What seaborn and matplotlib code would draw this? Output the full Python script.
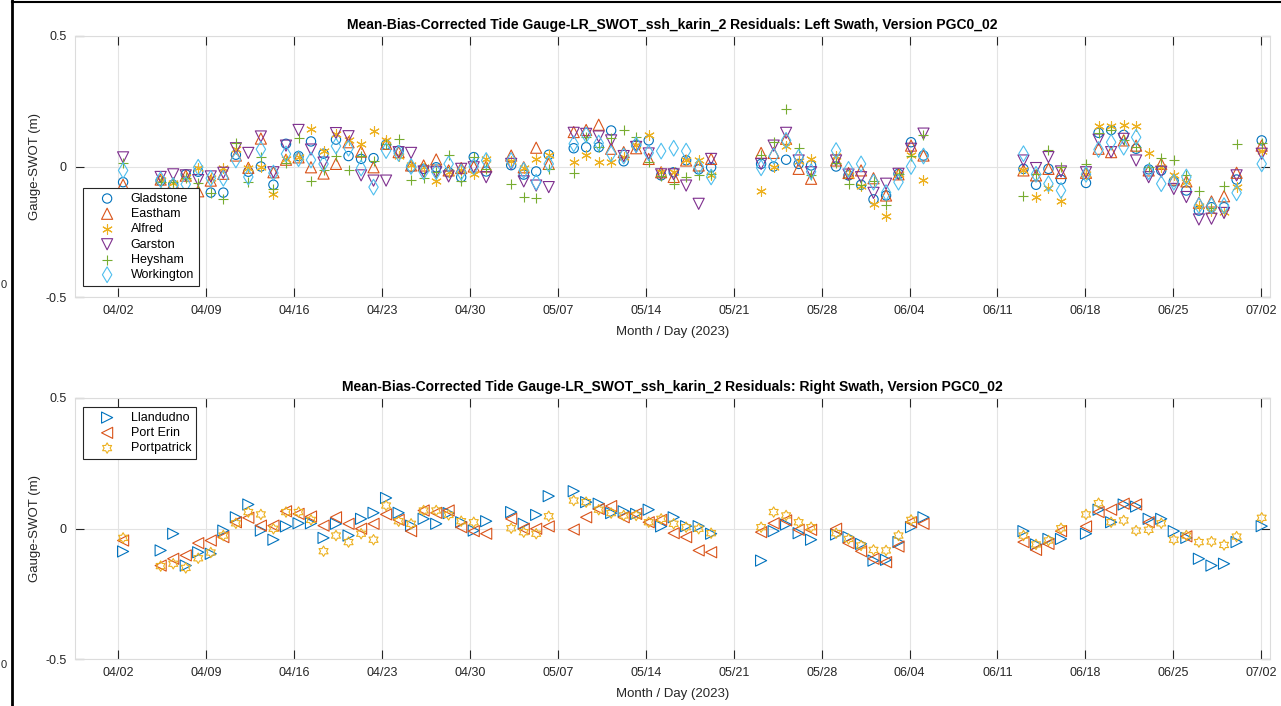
import numpy as np
import pandas as pd
import matplotlib
matplotlib.use("Agg")
import matplotlib.pyplot as plt
from matplotlib.path import Path
from matplotlib.lines import Line2D
import seaborn as sns

plt.rcParams['font.family'] = ['Liberation Sans', 'DejaVu Sans']

nan = np.nan

# ---------------- data ----------------
start_date = "2023-04-02"
# pass times, days after 04/02 00:00
pass_day = [0.38, 3.37, 4.37, 5.37, 6.36, 7.36, 8.36, 9.36, 10.35, 11.35, 12.35, 13.35, 14.35,
            15.34, 16.34, 17.33, 18.33, 19.33, 20.32, 21.32, 22.32, 23.31, 24.31, 25.31, 26.30,
            27.30, 28.30, 29.29, 31.28, 32.28, 33.27, 34.27, 36.26, 37.25, 38.25, 39.24, 40.24,
            41.23, 42.23, 43.22, 44.22, 45.21, 46.21, 47.20, 51.18, 52.18, 53.17, 54.17, 55.16,
            57.15, 58.14, 59.14, 60.13, 61.13, 62.12, 63.12, 64.11, 72.07, 73.07, 74.06, 75.06,
            77.05, 78.05, 79.05, 80.05, 81.04, 82.04, 83.04, 84.04, 85.04, 86.04, 87.04, 88.04,
            89.04, 91.04]

left_names = ["Gladstone", "Eastham", "Alfred", "Garston", "Heysham", "Workington"]
gladstone = [-0.06, -0.055, -0.07, -0.03, -0.02, -0.10, -0.10, 0.045, -0.02, 0.0, -0.07, 0.087, 0.04,
             0.096, 0.049, 0.103, 0.04, 0.029, 0.032, 0.083, 0.061, -0.003, -0.009, -0.003, -0.022,
             -0.041, 0.036, -0.019, 0.005, -0.031, -0.019, 0.045, 0.07, 0.074, 0.074, 0.138, 0.02,
             0.083, 0.10, -0.034, -0.022, 0.024, -0.011, -0.003, 0.01, 0.0, 0.026, 0.01, 0.004,
             0.0, -0.034, -0.07, -0.126, -0.111, -0.028, 0.093, 0.042, -0.009, -0.07, -0.009, -0.05,
             -0.063, 0.129, 0.14, 0.121, 0.068, -0.011, -0.015, -0.057, -0.092, -0.169, -0.156, -0.156,
             -0.05, 0.10]
eastham = [-0.07, -0.05, -0.065, -0.035, -0.095, -0.054, -0.028, 0.042, -0.005, 0.107, -0.022, 0.026, 0.035,
           -0.003, -0.027, 0.01, 0.093, 0.057, -0.003, 0.087, 0.055, 0.004, 0.004, 0.027, -0.015,
           -0.006, 0.0, 0.0, 0.042, -0.003, 0.072, 0.01, 0.132, 0.14, 0.16, 0.068, 0.055,
           0.07, 0.029, -0.022, -0.04, 0.023, 0.004, 0.029, 0.052, 0.052, 0.106, -0.009, -0.047,
           0.023, -0.025, -0.015, -0.045, -0.111, -0.03, 0.08, 0.042, -0.015, -0.034, -0.009, -0.025,
           -0.024, 0.068, 0.055, 0.10, 0.08, -0.015, 0.01, -0.05, -0.057, -0.139, -0.134, -0.114,
           -0.024, 0.08]
alfred = [nan, -0.05, -0.065, -0.04, -0.005, -0.045, -0.005, 0.068, -0.005, 0.0, -0.105, 0.03, 0.038,
          0.145, 0.061, 0.125, 0.10, 0.087, 0.135, 0.10, 0.042, 0.004, 0.0, -0.057, -0.02,
          -0.015, -0.028, 0.027, 0.02, -0.005, 0.029, 0.045, 0.017, 0.045, 0.017, 0.019, 0.036,
          0.083, 0.119, -0.02, -0.022, 0.026, 0.026, -0.034, -0.092, 0.0, 0.078, 0.02, 0.027,
          0.042, -0.034, -0.075, -0.143, -0.188, -0.028, 0.045, -0.05, -0.015, -0.117, -0.083, -0.134,
          -0.028, 0.157, 0.155, 0.16, 0.157, 0.052, 0.0, -0.032, -0.06, -0.15, -0.17, -0.175,
          -0.079, 0.06]
garston = [0.035, -0.04, -0.03, -0.034, -0.052, -0.038, -0.024, 0.07, 0.052, 0.115, -0.022, 0.08, 0.14,
           0.065, 0.015, 0.128, 0.116, -0.034, -0.054, -0.054, 0.055, 0.052, -0.019, -0.022, -0.038,
           -0.009, -0.003, -0.041, 0.01, -0.057, -0.073, -0.079, 0.129, 0.125, 0.115, 0.10, 0.04,
           0.075, 0.05, -0.03, -0.03, -0.073, -0.143, 0.029, 0.01, 0.08, 0.129, 0.023, -0.022,
           0.023, -0.031, -0.041, -0.101, -0.066, -0.028, 0.068, 0.126, 0.023, -0.006, 0.036, -0.019,
           -0.022, 0.103, 0.055, 0.106, 0.023, -0.041, -0.02, -0.086, -0.117, -0.203, -0.20, -0.178,
           -0.034, 0.049]
heysham = [0.015, -0.06, -0.06, -0.045, -0.062, -0.10, -0.125, 0.09, -0.06, 0.037, -0.085, 0.013, 0.11,
           -0.057, -0.015, 0.042, -0.015, 0.042, 0.02, 0.085, 0.106, -0.051, -0.045, -0.02, 0.045,
           -0.054, 0.036, -0.01, -0.066, -0.118, -0.121, -0.01, -0.024, 0.112, 0.074, 0.109, 0.138,
           0.112, 0.017, -0.035, -0.066, -0.04, -0.032, -0.03, 0.045, 0.093, 0.221, 0.07, -0.034,
           0.015, -0.066, -0.07, -0.054, -0.149, -0.028, 0.04, 0.12, -0.114, -0.03, 0.065, -0.003,
           0.01, 0.13, 0.14, 0.10, 0.075, 0.0, 0.032, 0.023, -0.034, -0.092, -0.16, -0.073,
           0.087, 0.09]
workington = [-0.015, -0.05, -0.073, -0.068, -0.003, -0.045, -0.045, 0.025, -0.04, 0.066, -0.025, 0.048, 0.03,
              0.025, 0.01, 0.078, 0.07, -0.006, -0.079, 0.061, 0.05, 0.0, -0.02, -0.02, 0.01,
              -0.022, 0.0, 0.023, 0.023, -0.015, -0.06, 0.01, 0.087, 0.121, 0.09, 0.049, 0.04,
              0.083, 0.052, 0.059, 0.07, 0.059, 0.0, -0.04, -0.005, 0.04, 0.10, 0.036, -0.02,
              0.061, -0.011, 0.01, -0.06, -0.10, -0.06, 0.0, 0.04, 0.049, -0.03, -0.066, -0.092,
              -0.03, 0.065, 0.093, 0.074, 0.112, -0.02, -0.066, -0.06, -0.04, -0.15, -0.15, -0.15,
              -0.101, 0.01]

right_names = ["Llandudno", "Port Erin", "Portpatrick"]
llandudno = [-0.088, -0.084, -0.02, -0.142, -0.091, -0.097, -0.008, 0.043, 0.092, -0.008, -0.043, 0.008, 0.02,
             0.02, -0.036, 0.018, -0.027, 0.037, 0.06, 0.117, 0.06, 0.011, 0.037, 0.018, 0.059,
             0.024, -0.008, 0.028, 0.063, 0.018, 0.052, 0.124, 0.143, 0.101, 0.095, 0.059, 0.066,
             0.056, 0.072, 0.008, 0.043, 0.009, 0.009, -0.02, -0.123, -0.01, 0.015, -0.018, -0.043,
             -0.023, -0.033, -0.059, -0.123, -0.12, -0.052, 0.005, 0.043, -0.01, -0.061, -0.04, -0.04,
             -0.02, 0.072, 0.024, 0.092, 0.084, 0.037, 0.037, -0.01, -0.036, -0.116, -0.142, -0.135,
             -0.052, 0.009]
port_erin = [-0.046, -0.142, -0.116, -0.103, -0.056, -0.046, -0.033, 0.024, 0.041, 0.011, 0.011, 0.066, 0.056,
             0.046, 0.011, 0.043, 0.018, -0.001, 0.018, 0.054, 0.033, -0.01, 0.069, 0.06, 0.069,
             0.005, -0.01, -0.02, 0.037, -0.001, -0.001, 0.008, -0.004, 0.043, 0.075, 0.086, 0.043,
             0.056, 0.024, 0.033, -0.018, -0.033, -0.084, -0.091, -0.014, 0.02, 0.031, -0.005, -0.005,
             -0.001, -0.056, -0.087, -0.116, -0.129, -0.069, 0.024, 0.018, -0.052, -0.082, -0.059, -0.01,
             0.008, 0.063, 0.072, 0.095, 0.092, 0.024, nan, nan, -0.03, nan, nan, nan,
             nan, nan]
portpatrick = [-0.036, -0.144, -0.135, -0.151, -0.114, -0.092, -0.027, 0.02, 0.063, 0.054, -0.001, 0.063, 0.063,
               0.033, -0.087, -0.027, -0.052, -0.02, -0.043, 0.088, 0.028, 0.018, 0.069, 0.069, 0.052,
               0.028, 0.024, nan, 0.001, -0.014, -0.02, 0.047, 0.107, 0.101, 0.072, 0.059, 0.05,
               0.05, 0.024, 0.037, 0.018, 0.005, -0.001, -0.018, 0.005, 0.063, 0.05, 0.024, 0.005,
               -0.018, -0.04, -0.065, -0.082, -0.084, -0.027, 0.033, nan, -0.027, -0.061, -0.046, 0.001,
               0.054, 0.097, 0.024, 0.031, -0.008, -0.005, 0.02, -0.043, -0.027, -0.052, -0.05, -0.063,
               -0.031, 0.041]

tick_dates = pd.date_range("2023-04-02", "2023-07-02", freq="7D")
tick_labels = [d.strftime("%m/%d") for d in tick_dates]
y_ticks = [-0.5, 0, 0.5]
y_tick_labels = ["-0.5", "0", "0.5"]

titles = ["Mean-Bias-Corrected Tide Gauge-LR_SWOT_ssh_karin_2 Residuals: Left Swath, Version PGC0_02",
          "Mean-Bias-Corrected Tide Gauge-LR_SWOT_ssh_karin_2 Residuals: Right Swath, Version PGC0_02"]

# ---------------- styles ----------------
mat_colors = ["#0072BD", "#D95319", "#EDB120", "#7E2F8E", "#77AC30", "#4DBEEE"]

ang = np.deg2rad(90 + np.arange(12) * 30)
rad = np.where(np.arange(12) % 2 == 0, 1.0, 0.577)
hv = np.c_[rad * np.cos(ang), rad * np.sin(ang)]
hexagram = Path(np.vstack([hv, hv[:1]]), closed=True)

left_style = [("o", 6.7, True), ("^", 8.0, True), ((6, 2, 0), 7.0, False),
              ("v", 8.0, True), ("+", 7.5, False), ("d", 8.0, True)]
right_style = [(">", 8.0, True), ("<", 8.0, True), (hexagram, 7.5, True)]

base = pd.Timestamp(start_date)
dates = base + pd.to_timedelta(pass_day, unit="D")

fig = plt.figure(figsize=(12.81, 7.06), dpi=100)
ax_top = fig.add_axes([75 / 1281, 1 - 297 / 706, 1195 / 1281, 261 / 706])
ax_bot = fig.add_axes([75 / 1281, 1 - 659 / 706, 1195 / 1281, 261 / 706])


def draw(ax, names, series, styles, title, leg_loc, leg_anchor):
    for i, (name, vals, (mk, ms, filled)) in enumerate(zip(names, series, styles)):
        df = pd.DataFrame({"date": dates, "value": vals}).dropna()
        c = mat_colors[i]
        kw = dict(s=ms ** 2, marker=mk, linewidths=0.8, label=name, legend=False)
        if filled:
            sns.scatterplot(data=df, x="date", y="value", ax=ax, color=c,
                            facecolor="none", edgecolor=c, **kw)
        else:
            sns.scatterplot(data=df, x="date", y="value", ax=ax, color=c, **kw)
    ax.set_xlim(base - pd.Timedelta(days=3.45), base + pd.Timedelta(days=91.7))
    ax.set_ylim(-0.5, 0.5)
    ax.set_xticks(tick_dates)
    ax.set_xticklabels(tick_labels)
    ax.set_yticks(y_ticks)
    ax.set_yticklabels(y_tick_labels)
    ax.grid(True, color="#e3e3e3", linewidth=0.8)
    ax.set_axisbelow(True)
    for sp in ax.spines.values():
        sp.set_color("#dcdcdc")
        sp.set_linewidth(0.8)
    ax.tick_params(direction="in", length=6.5, width=0.8, color="#262626",
                   labelsize=9, labelcolor="#262626", top=True, right=True, pad=6)
    ax.set_xlabel("Month / Day (2023)", fontsize=9.5, color="#262626", labelpad=6)
    ax.set_ylabel("Gauge-SWOT (m)", fontsize=9.5, color="#262626", labelpad=3)
    ax.set_title(title, fontsize=10, fontweight="bold", pad=5)
    leg = ax.legend(loc=leg_loc, bbox_to_anchor=leg_anchor, fontsize=9, frameon=True,
                    fancybox=False, edgecolor="#262626", framealpha=1, borderpad=0.4,
                    labelspacing=0.26, handletextpad=0.4, handlelength=3.0,
                    borderaxespad=0.0, scatterpoints=1)
    leg.get_frame().set_linewidth(0.8)


draw(ax_top, left_names, [gladstone, eastham, alfred, garston, heysham, workington],
     left_style, titles[0], "lower left", (0.007, 0.042))
draw(ax_bot, right_names, [llandudno, port_erin, portpatrick],
     right_style, titles[1], "upper left", (0.007, 0.966))

# figure frame remnants
fig.add_artist(Line2D([12 / 1281, 12 / 1281], [0, 1], transform=fig.transFigure,
                      color="black", linewidth=2))
fig.add_artist(Line2D([12 / 1281, 1], [1 - 2 / 706, 1 - 2 / 706], transform=fig.transFigure,
                      color="black", linewidth=1.5))
fig.text(1 / 1281, 1 - 285 / 706, "0", fontsize=8, ha="left", va="center", color="#262626")
fig.text(1 / 1281, 1 - 665 / 706, "0", fontsize=8, ha="left", va="center", color="#262626")

fig.savefig("out.png", dpi=100)
